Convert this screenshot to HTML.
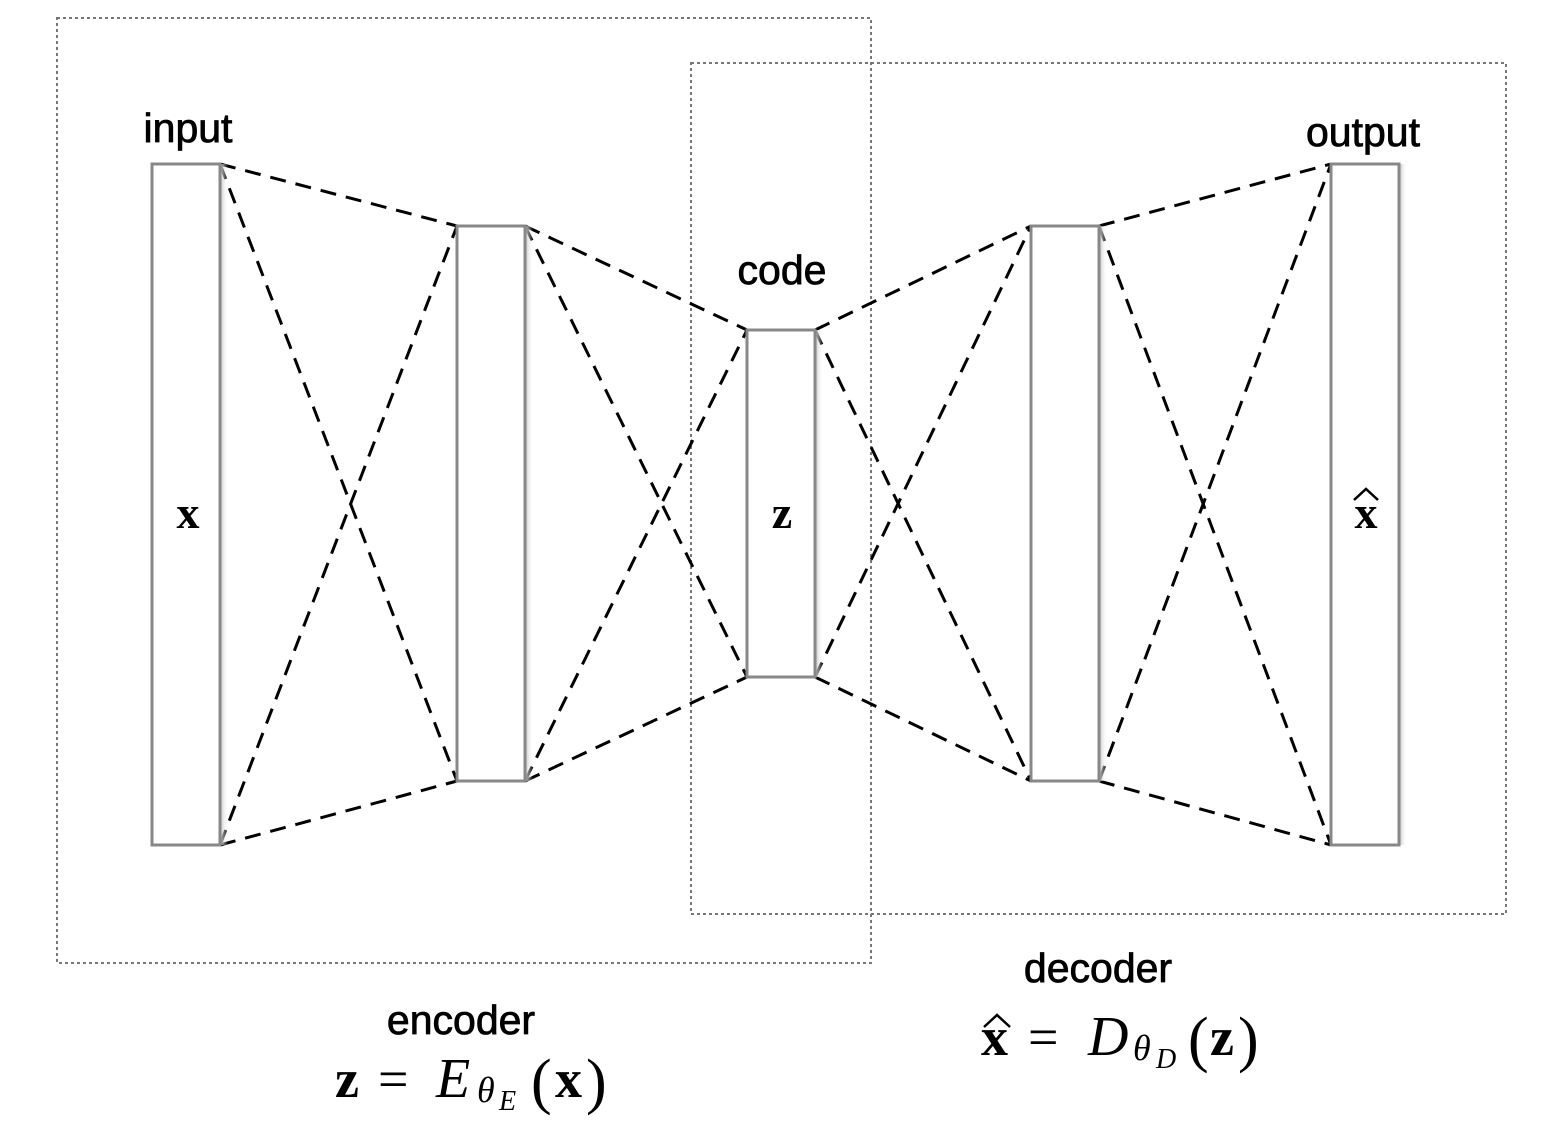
<!DOCTYPE html>
<html><head><meta charset="utf-8"><style>
html,body{margin:0;padding:0;background:#fff}
svg{display:block}
.lbl{font-family:"Liberation Sans",sans-serif;font-size:41px;fill:#000;stroke:#000;stroke-width:0.8;text-anchor:middle}
.math{font-family:"Liberation Serif",serif;fill:#000}
</style></head><body>
<svg width="1561" height="1132" viewBox="0 0 1561 1132">
<defs>
<linearGradient id="sh" x1="0" x2="1"><stop offset="0" stop-color="#bbb"/><stop offset="1" stop-color="#fff" stop-opacity="0"/></linearGradient>
</defs>
<rect x="57" y="18" width="814" height="945" fill="none" stroke="#777" stroke-width="2" stroke-dasharray="3,3"/>
<rect x="691" y="63" width="815" height="851" fill="none" stroke="#777" stroke-width="2" stroke-dasharray="3,3"/>
<g id="lines" stroke="#000" stroke-width="3" stroke-dasharray="16,10" fill="none"></g>
<g id="bars"></g>
<text class="lbl" x="188" y="142">input</text>
<text class="lbl" x="782" y="284">code</text>
<text class="lbl" x="1363" y="146">output</text>
<text class="math" x="188" y="528" font-size="46" font-weight="bold" text-anchor="middle">x</text>
<text class="math" x="782" y="528" font-size="46" font-weight="bold" text-anchor="middle">z</text>
<text class="math" x="1366" y="528" font-size="46" font-weight="bold" text-anchor="middle">x</text>
<path d="M1354,500 L1366,489 L1378,500" stroke="#000" stroke-width="2.5" fill="none"/>
<text class="lbl" x="461" y="1034">encoder</text>
<g class="math">
<text x="335" y="1097" font-size="54" font-weight="bold">z</text>
<text x="378" y="1097" font-size="54">=</text>
<text x="436" y="1097" font-size="56" font-style="italic">E</text>
<text x="477" y="1102" font-size="36" font-style="italic">θ</text>
<text x="499" y="1110" font-size="28" font-style="italic">E</text>
<text x="531" y="1102" font-size="62">(</text>
<text x="555" y="1097" font-size="54" font-weight="bold">x</text>
<text x="586" y="1102" font-size="62">)</text>
</g>
<text class="lbl" x="1098" y="982">decoder</text>
<g class="math">
<text x="981" y="1055" font-size="54" font-weight="bold">x</text>
<path d="M984,1027 L997,1015 L1010,1027" stroke="#000" stroke-width="2.5" fill="none"/>
<text x="1028" y="1055" font-size="54">=</text>
<text x="1088" y="1055" font-size="56" font-style="italic">D</text>
<text x="1133" y="1060" font-size="36" font-style="italic">θ</text>
<text x="1156" y="1068" font-size="28" font-style="italic">D</text>
<text x="1188" y="1060" font-size="62">(</text>
<text x="1210" y="1055" font-size="54" font-weight="bold">z</text>
<text x="1238" y="1060" font-size="62">)</text>
</g>
</svg>
<script>
const layerX=[152,457,747,1031,1331];
const layerTop=[164,226,330,226,164];
const layerBot=[845,781,677,781,845];
const W=68;
const ns="http://www.w3.org/2000/svg";
const bars=document.getElementById('bars'),lines=document.getElementById('lines');
for(let i=0;i<layerX.length;i++){
  const g=document.createElementNS(ns,'g');
  
  
  const s=document.createElementNS(ns,'rect');
  s.setAttribute('x',layerX[i]+W);s.setAttribute('y',layerTop[i]);s.setAttribute('width',8);s.setAttribute('height',layerBot[i]-layerTop[i]);s.setAttribute('fill','url(#sh)');
  g.appendChild(s);
  const r=document.createElementNS(ns,'rect');
  r.setAttribute('x',layerX[i]);r.setAttribute('y',layerTop[i]);r.setAttribute('width',W);r.setAttribute('height',layerBot[i]-layerTop[i]);
  r.setAttribute('fill','#fff');r.setAttribute('stroke','#888');r.setAttribute('stroke-width','3');
  g.appendChild(r);
  bars.appendChild(g);
}
for(let i=0;i<layerX.length-1;i++){
  const x1=layerX[i]+W,x2=layerX[i+1];
  [[layerTop[i],layerTop[i+1]],[layerTop[i],layerBot[i+1]],[layerBot[i],layerTop[i+1]],[layerBot[i],layerBot[i+1]]].forEach(p=>{
    const l=document.createElementNS(ns,'line');
    
    
    l.setAttribute('x1',x1);l.setAttribute('y1',p[0]);l.setAttribute('x2',x2);l.setAttribute('y2',p[1]);
    lines.appendChild(l);
  });
}
</script>
</body></html>
